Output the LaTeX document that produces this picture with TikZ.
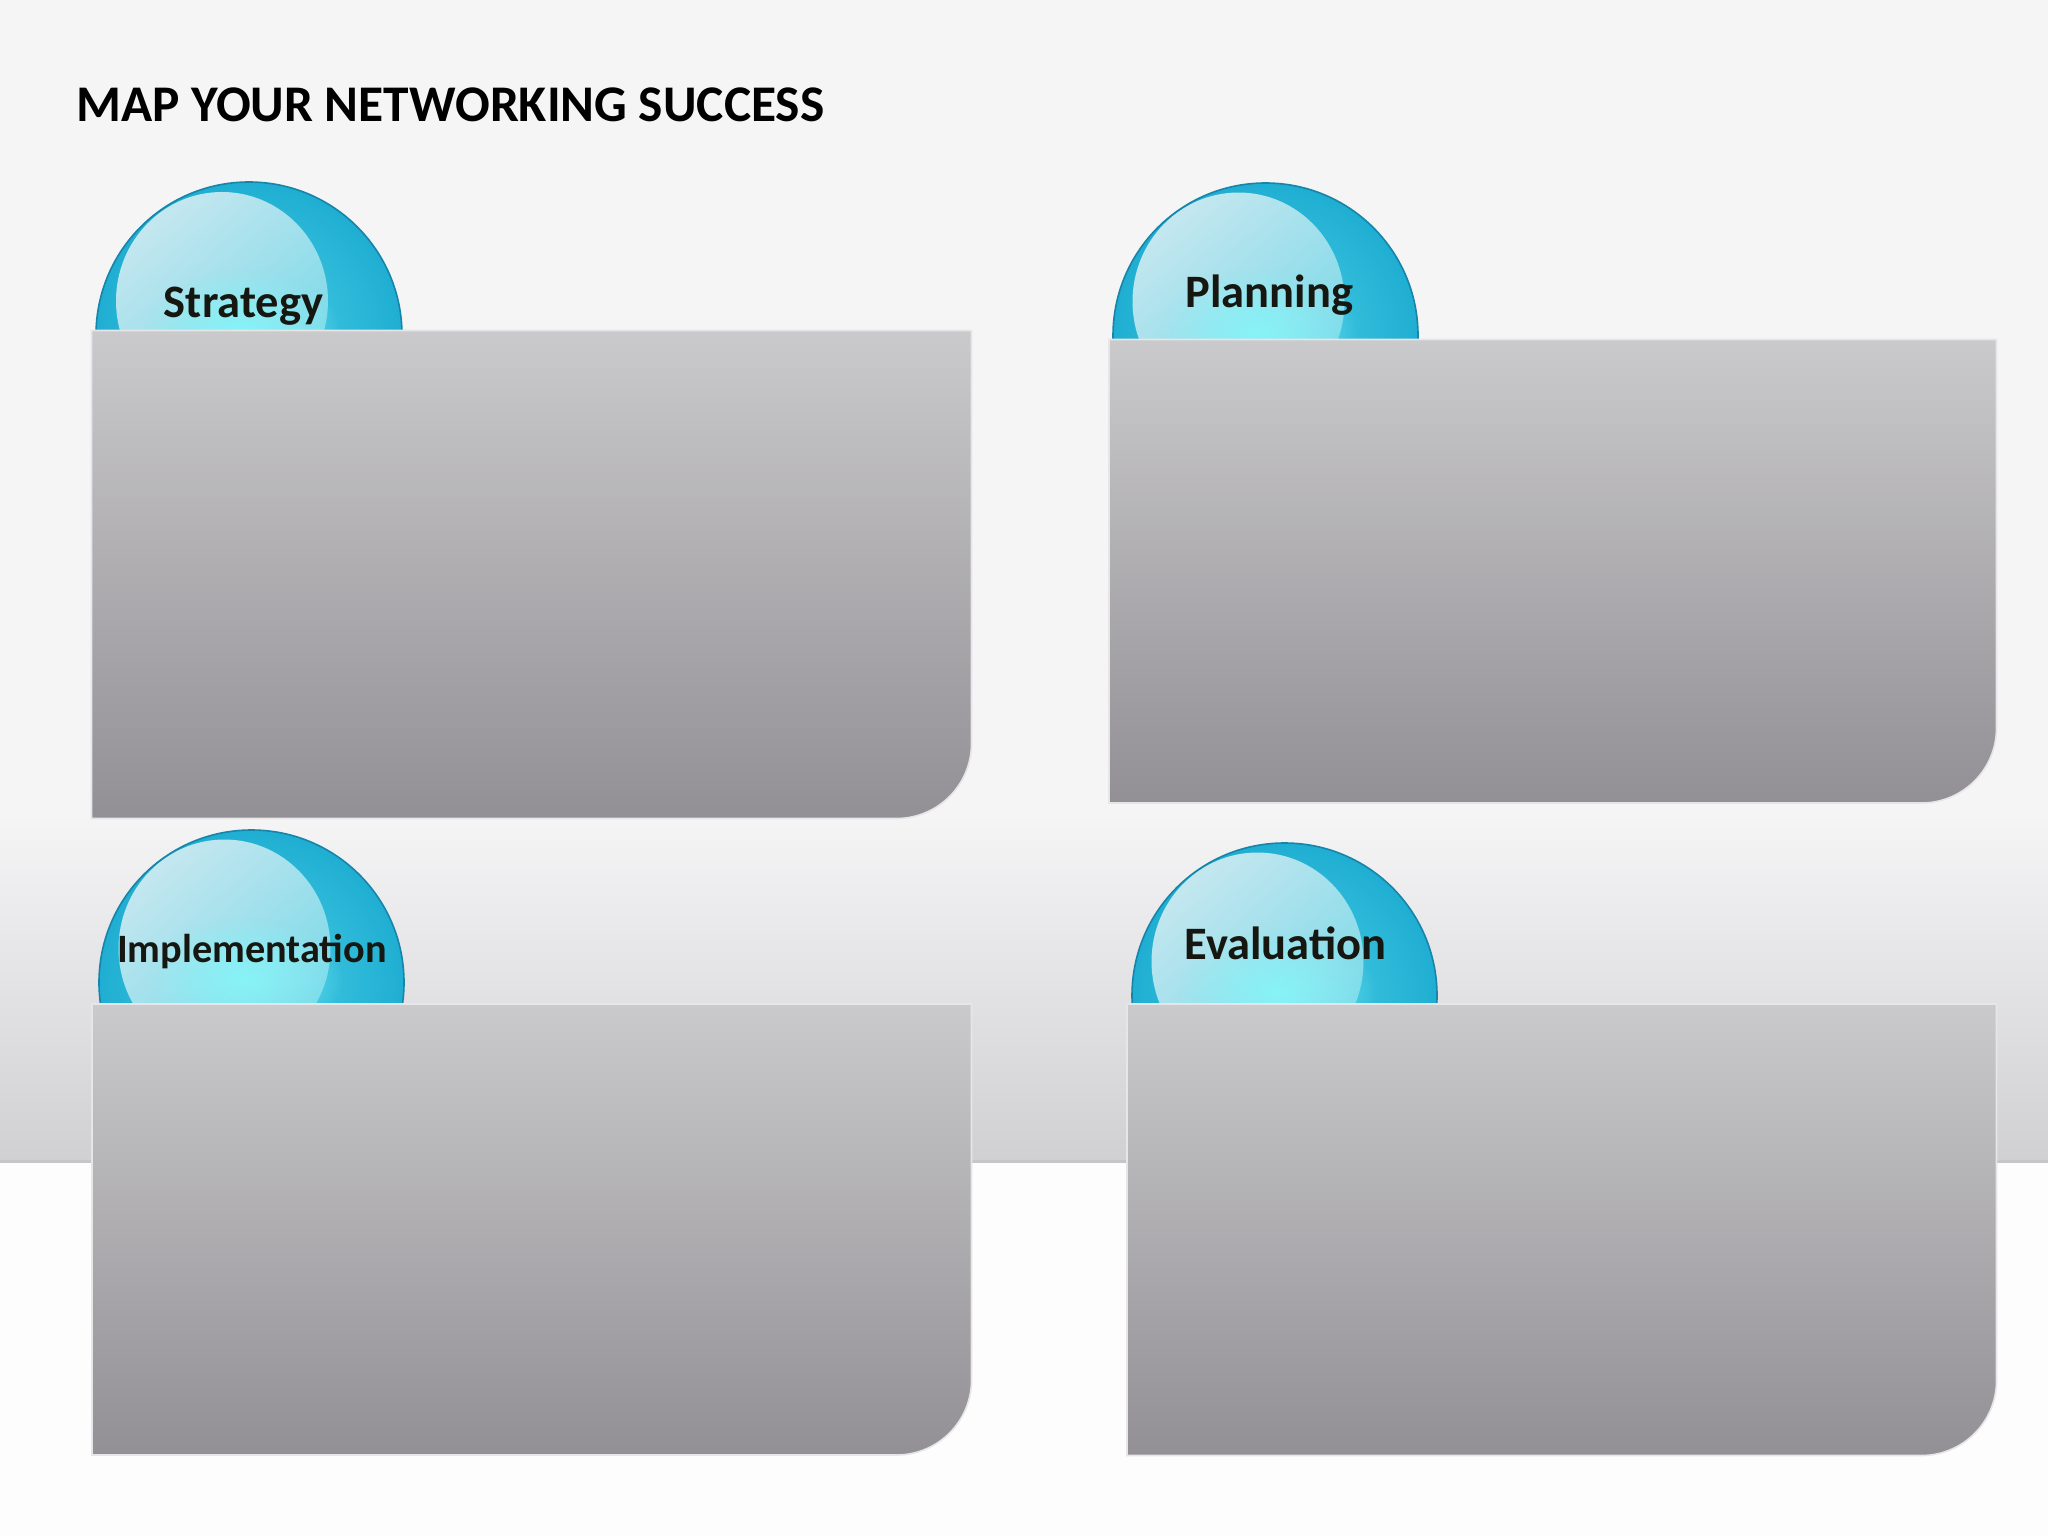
\documentclass[tikz,border=0pt]{standalone}
\usepackage{fontspec}
\setmainfont{Carlito}
\usetikzlibrary{fadings,calc}
\tikzfading[name=glowfade, inner color=transparent!0, outer color=transparent!100]
\definecolor{bgtop}{HTML}{F5F5F6}
\definecolor{bandbot}{HTML}{D0CFD2}
\definecolor{bgwhite}{HTML}{FDFDFD}
\definecolor{cardtop}{HTML}{CAC9CB}
\definecolor{cardbot}{HTML}{929094}
\definecolor{cardedge}{HTML}{E6E5E8}
\definecolor{rimin}{HTML}{4CCFE6}
\definecolor{rimout}{HTML}{1FAED2}
\definecolor{rimline}{HTML}{1784AA}
\definecolor{hltop}{HTML}{C4E7EF}
\definecolor{hlbot}{HTML}{78D8E8}
\definecolor{glow}{HTML}{86F6F9}
\definecolor{labelink}{HTML}{171712}
\tikzset{
  cardbox/.style={draw=cardedge, line width=1.6pt, top color=cardtop, bottom color=cardbot},
  spherelabel/.style={font=\bfseries\fontsize{46.5}{52}\selectfont, text=labelink, anchor=base, inner sep=0pt},
  titletext/.style={font=\bfseries\fontsize{51.4}{58}\selectfont, text=black, anchor=base west, inner sep=0pt}
}
% sphere: #1 name, #2 cx, #3 cy, #4 R
\newcommand{\glassball}[4]{%
  \coordinate (#1) at (#2,#3);
  \shade[inner color=rimin, outer color=rimout] (#1) circle[radius=#4];
  \shade[top color=hltop, bottom color=hlbot, shading angle=40]
     ($(#1)+(-27,-34)$) ellipse[x radius=106, y radius=109];
  \fill[glow, path fading=glowfade, opacity=0.9] ($(#1)+(-8,-4)$) ellipse[x radius=100, y radius=62];
  \draw[rimline, line width=1.6pt] (#1) circle[radius=#4];
}
% card: #1 name, #2 x1, #3 y1, #4 x2, #5 y2
\newcommand{\cardpanel}[5]{%
  \coordinate (#1) at (#2,#3);
  \draw[cardbox] (#2,#3) -- (#4,#3) -- (#4,#5-75) .. controls (#4,#5-33.6) and (#4-33.6,#5) .. (#4-75,#5) -- (#2,#5) -- cycle;
}
\begin{document}
\begin{tikzpicture}[x=1pt,y=-1pt]
\useasboundingbox (0,0) rectangle (2048,1536);
% background
\fill[bgwhite] (0,0) rectangle (2048,1536);
\fill[bgtop] (0,0) rectangle (2048,816);
\shade[top color=bgtop, bottom color=bandbot] (0,815) rectangle (2048,1162);
\fill[bandbot!95!black] (0,1160) rectangle (2048,1162.5);
% title
\node[titletext] (title) at (76,122) {MAP YOUR NETWORKING SUCCESS};
% spheres
\glassball{s1}{249}{335}{153}
\glassball{s2}{1265.5}{335.5}{152.5}
\glassball{s3}{251.5}{982.5}{152.5}
\glassball{s4}{1284.5}{995.5}{152.5}
% cards
\cardpanel{c1}{91.5}{330.5}{971.5}{818.5}
\cardpanel{c2}{1109}{339.5}{1996.5}{803}
\cardpanel{c3}{92}{1004}{971.5}{1455}
\cardpanel{c4}{1127}{1004}{1996.5}{1455.5}
% labels
\node[spherelabel] (l1) at (243.5,317) {Strategy};
\node[spherelabel] (l2) at (1269.5,307) {Planning};
\node[spherelabel, font=\bfseries\fontsize{40.3}{46}\selectfont] (l3) at (252,962) {Implementation};
\node[spherelabel] (l4) at (1285.5,959) {Evaluation};
\end{tikzpicture}
\end{document}
